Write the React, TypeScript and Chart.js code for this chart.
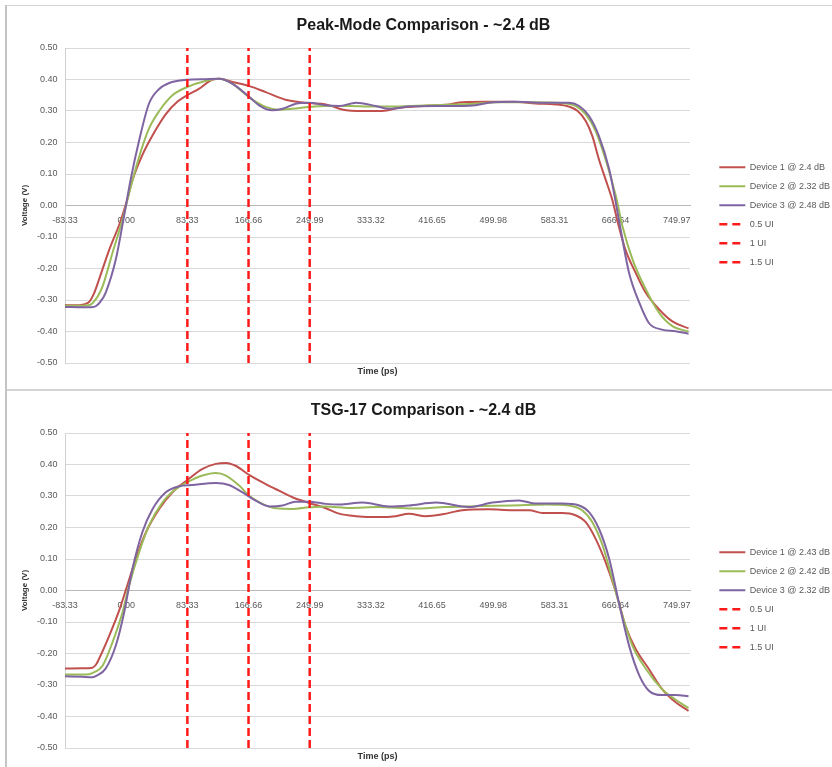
import React, { useEffect, useRef } from 'react';
import { Chart, registerables } from 'chart.js';
Chart.register(...registerables);

// ---- axes ----
const X_MIN = -83.33;
const X_MAX = 768;
const X_TICKS = [-83.33, 0, 83.33, 166.66, 249.99, 333.32, 416.65, 499.98, 583.31, 666.64, 749.97];
const Y_MIN = -0.5;
const Y_MAX = 0.5;
const Y_TICKS = [-0.5, -0.4, -0.3, -0.2, -0.1, 0, 0.1, 0.2, 0.3, 0.4, 0.5];
const X_TITLE = 'Time (ps)';
const Y_TITLE = 'Voltage (V)';

// ---- UI markers ----
const UI_POSITIONS = [83.33, 166.66, 249.99];
const UI_LABELS = ['0.5 UI', '1 UI', '1.5 UI'];

// ---- Peak-Mode chart ----
const PM_TITLE = 'Peak-Mode Comparison - ~2.4 dB';
const PM_LABELS = ['Device 1 @ 2.4 dB', 'Device 2 @ 2.32 dB', 'Device 3 @ 2.48 dB'];
const PM_D1_T = [-83.33, -70, -58, -50, -44, -37, -23, -9.5, 0, 8.6, 22, 36, 54, 70, 83, 99, 118, 127, 145, 168, 190, 217, 249, 272, 294, 322, 349, 372, 403, 440, 458, 490, 526, 558, 585, 603, 615, 626, 635, 644, 653, 662, 671, 680, 694, 708, 726, 744, 766];
const PM_D1_V = [-0.316, -0.317, -0.314, -0.305, -0.28, -0.235, -0.14, -0.061, 0.007, 0.081, 0.16, 0.223, 0.29, 0.33, 0.35, 0.37, 0.4, 0.402, 0.392, 0.379, 0.36, 0.336, 0.325, 0.321, 0.305, 0.3, 0.3, 0.31, 0.316, 0.321, 0.328, 0.329, 0.329, 0.324, 0.321, 0.314, 0.3, 0.268, 0.22, 0.146, 0.083, 0.019, -0.066, -0.14, -0.214, -0.278, -0.33, -0.368, -0.39];
const PM_D2_T = [-83.33, -60, -50, -46, -39, -32, -18.6, -5, 4, 17.7, 31, 45, 63, 83, 108, 127, 145, 159, 172, 190, 208, 226, 249, 272, 304, 331, 367, 413, 449, 476, 503, 549, 585, 612, 626, 639.5, 653, 667, 676, 689.5, 708, 726, 744, 766];
const PM_D2_V = [-0.318, -0.318, -0.316, -0.31, -0.29, -0.256, -0.15, -0.045, 0.039, 0.155, 0.244, 0.3, 0.35, 0.376, 0.395, 0.402, 0.386, 0.36, 0.336, 0.313, 0.304, 0.307, 0.313, 0.316, 0.316, 0.314, 0.314, 0.318, 0.321, 0.323, 0.328, 0.328, 0.326, 0.316, 0.289, 0.236, 0.146, 0.03, -0.066, -0.17, -0.267, -0.341, -0.383, -0.4];
const PM_D3_T = [-83.33, -60, -45, -41, -35, -28, -14, -3, 6, 17.7, 31, 45, 58.6, 83, 108, 127, 145, 168, 181, 199, 213, 231, 249, 272, 290, 313, 340, 358, 385, 422, 458, 476, 494, 531, 567, 603, 617, 630.5, 644, 658, 667, 676, 685, 699, 712, 730, 748.5, 766];
const PM_D3_V = [-0.322, -0.323, -0.322, -0.319, -0.305, -0.277, -0.17, -0.035, 0.081, 0.207, 0.323, 0.37, 0.389, 0.399, 0.401, 0.402, 0.386, 0.344, 0.318, 0.302, 0.307, 0.323, 0.326, 0.318, 0.316, 0.326, 0.316, 0.307, 0.314, 0.316, 0.316, 0.318, 0.326, 0.329, 0.326, 0.326, 0.316, 0.284, 0.22, 0.114, 0.008, -0.108, -0.214, -0.309, -0.373, -0.394, -0.399, -0.407];

// ---- TSG-17 chart ----
const TSG_TITLE = 'TSG-17 Comparison - ~2.4 dB';
const TSG_LABELS = ['Device 1 @ 2.43 dB', 'Device 2 @ 2.42 dB', 'Device 3 @ 2.32 dB'];
const TSG_D1_T = [-83.33, -60, -46, -41, -37, -23, -9.5, 0, 13, 27, 45, 63, 83.5, 104, 122, 136, 149, 167.5, 190, 208, 226.5, 249, 272, 290, 313, 344.5, 367, 385, 408, 431, 458, 494, 526, 549, 567, 594, 612, 626, 639.5, 653, 667, 680, 694, 712, 730, 748.5, 766];
const TSG_D1_V = [-0.248, -0.247, -0.245, -0.235, -0.217, -0.143, -0.063, 0.005, 0.1, 0.185, 0.259, 0.312, 0.351, 0.386, 0.402, 0.405, 0.396, 0.367, 0.338, 0.317, 0.296, 0.278, 0.261, 0.244, 0.236, 0.233, 0.236, 0.244, 0.236, 0.242, 0.255, 0.258, 0.255, 0.255, 0.246, 0.246, 0.239, 0.217, 0.164, 0.09, -0.005, -0.111, -0.186, -0.249, -0.313, -0.355, -0.382];
const TSG_D2_T = [-83.33, -55, -46, -32, -18.6, -5, 4, 17.7, 31, 49.5, 67.6, 83.5, 104, 122, 136, 154, 167.5, 185.6, 204, 226.5, 249, 272, 304, 344, 390, 435, 481, 526, 571.5, 603, 621, 635, 649, 662, 676, 689.5, 708, 730, 748.5, 766];
const TSG_D2_V = [-0.267, -0.267, -0.262, -0.238, -0.164, -0.069, 0.016, 0.122, 0.206, 0.28, 0.322, 0.344, 0.365, 0.373, 0.365, 0.333, 0.301, 0.275, 0.261, 0.259, 0.264, 0.267, 0.262, 0.265, 0.26, 0.265, 0.268, 0.27, 0.273, 0.27, 0.255, 0.217, 0.143, 0.037, -0.08, -0.175, -0.249, -0.313, -0.347, -0.373];
const TSG_D3_T = [-83.33, -60, -46, -40, -28, -14, -2.7, 8.6, 22, 36, 54, 72, 90, 122, 140, 158, 176.6, 195, 213, 231, 249, 272, 290, 322, 358, 385, 422, 467, 499, 535, 558, 594, 617, 630.5, 644, 658, 671, 685, 699, 712, 730, 748.5, 766];
const TSG_D3_V = [-0.272, -0.274, -0.275, -0.27, -0.248, -0.174, -0.069, 0.069, 0.185, 0.259, 0.312, 0.331, 0.335, 0.341, 0.335, 0.312, 0.285, 0.267, 0.27, 0.282, 0.282, 0.275, 0.273, 0.279, 0.267, 0.27, 0.279, 0.265, 0.279, 0.286, 0.276, 0.276, 0.27, 0.249, 0.196, 0.1, -0.037, -0.175, -0.27, -0.318, -0.332, -0.332, -0.336];

// ---- styling ----
const DEVICE_COLORS = ['#C0504D', '#9BBB59', '#7F64A2'];
const UI_COLOR = '#FF1A1A';
const UI_DASH = [8, 4];
const UI_LEGEND_DASH = [8, 5];
const FONT = "'Liberation Sans', Arial, sans-serif";
const TEXT_GRAY = '#595959';
const PLOT_RIGHT = 683;

type Series = { t: number[]; v: number[] };

function zip(t: number[], v: number[]) {
  const n = Math.min(t.length, v.length);
  const out: { x: number; y: number }[] = [];
  for (let i = 0; i < n; i++) out.push({ x: t[i], y: v[i] });
  return out;
}

function ChartPanel({ title, labels, series }: { title: string; labels: string[]; series: Series[] }) {
  const ref = useRef<HTMLCanvasElement | null>(null);
  useEffect(() => {
    if (!ref.current) return;
    const datasets: any[] = series.map((s, i) => ({
      label: labels[i],
      data: zip(s.t, s.v),
      borderColor: DEVICE_COLORS[i],
      backgroundColor: DEVICE_COLORS[i],
      borderWidth: 2,
      pointRadius: 0,
      cubicInterpolationMode: 'monotone',
      fill: false,
      order: 3 - i,
      xAxisID: 'x',
      yAxisID: 'y',
    }));
    UI_POSITIONS.forEach((p, i) => {
      datasets.push({
        label: UI_LABELS[i],
        data: [{ x: p, y: Y_MIN }, { x: p, y: Y_MAX }],
        borderColor: UI_COLOR,
        backgroundColor: UI_COLOR,
        borderWidth: 2.5,
        borderDash: UI_DASH,
        pointRadius: 0,
        fill: false,
        order: 0,
        xAxisID: 'x',
        yAxisID: 'y',
      });
    });
    const chart = new Chart(ref.current, {
      type: 'line',
      data: { datasets },
      options: {
        animation: false,
        responsive: false,
        maintainAspectRatio: false,
        events: [],
        layout: { padding: { top: 10, left: 0, right: 0, bottom: 8.6 } },
        plugins: {
          tooltip: { enabled: false },
          title: {
            display: true,
            text: title,
            color: '#1a1a1a',
            font: { family: FONT, size: 16, weight: 'bold' },
            padding: { top: 0, bottom: 12.8 },
          },
          legend: {
            position: 'right',
            align: 'center',
            title: {
              display: true,
              text: '',
              font: { family: FONT, size: 9 },
              padding: { top: 12.6, bottom: 12.6 },
            },
            labels: {
              usePointStyle: true,
              pointStyle: 'line',
              pointStyleWidth: 26,
              boxHeight: 9,
              padding: 10,
              color: TEXT_GRAY,
              font: { family: FONT, size: 9 },
              sort: (a: any, b: any) => a.datasetIndex - b.datasetIndex,
              generateLabels: (c: any) => {
                const items = (Chart as any).defaults.plugins.legend.labels.generateLabels(c);
                items.forEach((it: any) => {
                  const ds = c.data.datasets[it.datasetIndex];
                  it.lineDash = ds.borderDash ? UI_LEGEND_DASH : [];
                  it.lineWidth = ds.borderWidth;
                  it.strokeStyle = ds.borderColor;
                });
                return items;
              },
            },
          },
        },
        scales: {
          x: {
            type: 'linear',
            position: 'bottom',
            min: X_MIN,
            max: X_MAX,
            grid: { display: false, drawTicks: false },
            border: { display: false },
            ticks: { display: false },
            title: {
              display: true,
              text: X_TITLE,
              color: '#333',
              font: { family: FONT, size: 9, weight: 'bold' },
              padding: { top: 3.6, bottom: 0 },
            },
          },
          xZero: {
            type: 'linear',
            axis: 'x',
            position: { y: 0 },
            min: X_MIN,
            max: X_MAX,
            afterBuildTicks: (s: any) => {
              s.ticks = X_TICKS.map((value) => ({ value }));
            },
            grid: { display: false, drawTicks: false },
            border: { display: true, color: '#b8b8b8', width: 1 },
            ticks: {
              autoSkip: false,
              maxRotation: 0,
              padding: 10,
              color: TEXT_GRAY,
              font: { family: FONT, size: 9 },
              callback: (v: any) => Number(v).toFixed(2),
            },
          },
          y: {
            type: 'linear',
            position: 'left',
            min: Y_MIN,
            max: Y_MAX,
            afterBuildTicks: (s: any) => {
              s.ticks = Y_TICKS.map((value) => ({ value }));
            },
            afterFit: (s: any) => {
              s.width = 58;
            },
            grid: { color: '#d9d9d9', lineWidth: 1, drawTicks: false },
            border: { display: true, color: '#d0d0d0' },
            ticks: {
              padding: 7.5,
              color: TEXT_GRAY,
              font: { family: FONT, size: 9 },
              callback: (v: any) => Number(v).toFixed(2),
            },
            title: {
              display: true,
              text: Y_TITLE,
              color: '#333',
              font: { family: FONT, size: 8, weight: 'bold' },
              padding: { top: 13.2, bottom: 0 },
            },
          },
          gap: {
            type: 'linear',
            axis: 'y',
            position: 'right',
            display: true,
            grid: { display: false, drawTicks: false },
            border: { display: false },
            ticks: { display: false },
            afterFit: (s: any) => {
              const lw = s.chart.legend ? s.chart.legend.width : 0;
              s.width = Math.max(0, s.chart.width - PLOT_RIGHT - lw);
            },
          },
        },
      } as any,
    });
    return () => chart.destroy();
  }, [title, labels, series]);
  return <canvas ref={ref} width={833} height={380} style={{ display: 'block', width: 833, height: 380 }} />;
}

const PM_SERIES: Series[] = [
  { t: PM_D1_T, v: PM_D1_V },
  { t: PM_D2_T, v: PM_D2_V },
  { t: PM_D3_T, v: PM_D3_V },
];
const TSG_SERIES: Series[] = [
  { t: TSG_D1_T, v: TSG_D1_V },
  { t: TSG_D2_T, v: TSG_D2_V },
  { t: TSG_D3_T, v: TSG_D3_V },
];

export default function App() {
  return (
    <div style={{ position: 'absolute', left: 0, top: 0, width: 832, height: 767, overflow: 'hidden', background: '#fff' }}>
      <div style={{ position: 'absolute', left: 7, top: 6 }}>
        <ChartPanel title={PM_TITLE} labels={PM_LABELS} series={PM_SERIES} />
      </div>
      <div style={{ position: 'absolute', left: 7, top: 391 }}>
        <ChartPanel title={TSG_TITLE} labels={TSG_LABELS} series={TSG_SERIES} />
      </div>
      <div style={{ position: 'absolute', left: 6, top: 5, width: 826, height: 1, background: '#d4d4d4' }} />
      <div style={{ position: 'absolute', left: 6, top: 389, width: 826, height: 2, background: '#d4d4d4' }} />
      <div style={{ position: 'absolute', left: 5, top: 5, width: 2, height: 762, background: '#c4c4c4' }} />
    </div>
  );
}
